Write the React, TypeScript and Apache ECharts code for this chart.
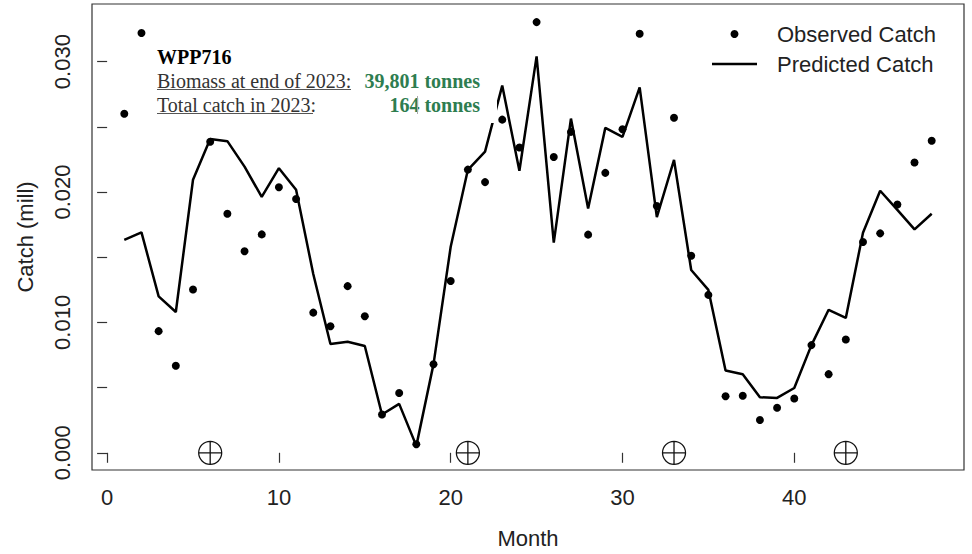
import React, { useEffect, useRef } from "react";
import * as echarts from "echarts";

const months = [
  1, 2, 3, 4, 5, 6, 7, 8, 9, 10, 11, 12, 13, 14, 15, 16, 17, 18, 19, 20, 21, 22, 23, 24,
  25, 26, 27, 28, 29, 30, 31, 32, 33, 34, 35, 36, 37, 38, 39, 40, 41, 42, 43, 44, 45, 46, 47, 48,
];

const observedCatch = [
  0.026, 0.0322, 0.00933, 0.00667, 0.01252, 0.02386, 0.01833, 0.01546, 0.01675, 0.02036,
  0.01947, 0.01075, 0.00971, 0.01278, 0.01047, 0.00294, 0.00459, 0.00066, 0.00679, 0.01318,
  0.02172, 0.02076, 0.02555, 0.02342, 0.03303, 0.02269, 0.02461, 0.01673, 0.02147, 0.02481,
  0.03214, 0.01893, 0.0257, 0.01511, 0.01211, 0.00433, 0.00438, 0.00251, 0.00345, 0.00416,
  0.00826, 0.00603, 0.00869, 0.01617, 0.01683, 0.01904, 0.02226, 0.02393,
];

const predictedCatch = [
  0.01633, 0.0169, 0.012, 0.0108, 0.02094, 0.02406, 0.0239, 0.02195, 0.01962, 0.02183,
  0.02018, 0.01371, 0.00834, 0.00852, 0.00819, 0.00294, 0.00375, 0.00053, 0.0068, 0.0158,
  0.0217, 0.0231, 0.02816, 0.02163, 0.0304, 0.01612, 0.02563, 0.01873, 0.02492, 0.02423,
  0.02803, 0.01808, 0.02246, 0.01402, 0.01249, 0.00631, 0.00603, 0.00426, 0.00421, 0.00497,
  0.00826, 0.01097, 0.01034, 0.01688, 0.0201, 0.01863, 0.01713, 0.01833,
];

const markerMonths = [6, 21, 33, 43];
const markerValues = [0, 0, 0, 0];

const xTicks = [0, 10, 20, 30, 40];
const yTicks = [0, 0.005, 0.01, 0.015, 0.02, 0.025, 0.03];
const yLabels = [0, 0.01, 0.02, 0.03];

const titleText = "WPP716";
const biomassLabel = "Biomass at end of 2023";
const biomassValue = "39,801 tonnes";
const catchLabel = "Total catch in 2023";
const catchValue = "164 tonnes";

const circlePlus =
  "path://M10 0 A10 10 0 1 1 10 20 A10 10 0 1 1 10 0 Z M0 10 L20 10 M10 0 L10 20";
const legendLine = "path://M0 0 L45 0 L45 2.5 L0 2.5 Z";

export default function App() {
  const ref = useRef<HTMLDivElement>(null);

  useEffect(() => {
    if (!ref.current) return;
    const chart = echarts.init(ref.current, null, { renderer: "svg" });
    const axisColor = "#333";
    const textColor = "#222";
    const serif = '"Liberation Serif", "Times New Roman", serif';
    const green = "#2e7d50";

    const option: any = {
      animation: false,
      backgroundColor: "#fff",
      textStyle: { fontFamily: '"Liberation Sans", Arial, sans-serif' },
      grid: {
        left: 92,
        top: 4,
        width: 872,
        height: 470,
        show: true,
        borderColor: axisColor,
        borderWidth: 1.2,
        backgroundColor: "transparent",
      },
      xAxis: {
        type: "value",
        min: -0.88,
        max: 49.88,
        splitLine: { show: false },
        axisLine: { show: false },
        axisTick: {
          show: true,
          length: 10,
          customValues: xTicks,
          lineStyle: { color: axisColor, width: 1.2 },
        },
        axisLabel: {
          customValues: xTicks,
          fontSize: 22,
          color: textColor,
          margin: 16,
        },
        name: "Month",
        nameLocation: "middle",
        nameGap: 57,
        nameTextStyle: { fontSize: 22, color: textColor },
      },
      yAxis: {
        type: "value",
        min: -0.00132,
        max: 0.03442,
        splitLine: { show: false },
        axisLine: { show: false },
        axisTick: {
          show: true,
          length: 10,
          customValues: yTicks,
          lineStyle: { color: axisColor, width: 1.2 },
        },
        axisLabel: {
          customValues: yLabels,
          fontSize: 22,
          color: textColor,
          rotate: 90,
          margin: 19,
          formatter: (v: number) => v.toFixed(3),
        },
        name: "Catch (mill)",
        nameLocation: "middle",
        nameGap: 56,
        nameTextStyle: { fontSize: 22, color: textColor },
      },
      legend: {
        data: [
          { name: "Observed Catch", icon: "circle" },
          { name: "Predicted Catch", icon: legendLine },
        ],
        orient: "vertical",
        left: 707,
        top: 18,
        itemWidth: 45,
        itemHeight: 8,
        itemGap: 8,
        selectedMode: false,
        itemStyle: { opacity: 1 },
        textStyle: {
          fontSize: 22,
          color: textColor,
          lineHeight: 22,
          padding: [0, 0, 0, 15],
        },
      },
      series: [
        {
          name: "Observed Catch",
          type: "scatter",
          data: months.map((m, i) => [m, observedCatch[i]]),
          symbol: "circle",
          symbolSize: 8,
          itemStyle: { color: "#000", opacity: 1 },
          z: 3,
        },
        {
          name: "Predicted Catch",
          type: "line",
          data: months.map((m, i) => [m, predictedCatch[i]]),
          symbol: "none",
          showSymbol: false,
          lineStyle: { color: "#000", width: 2.5 },
          itemStyle: { color: "#000" },
          z: 2,
        },
        {
          name: "markers",
          type: "scatter",
          data: markerMonths.map((m, i) => [m, markerValues[i]]),
          symbol: circlePlus,
          symbolSize: 23,
          itemStyle: {
            color: "rgba(0,0,0,0)",
            borderColor: "#111",
            borderWidth: 1.3,
            opacity: 1,
          },
          z: 2,
        },
      ],
      graphic: [
        {
          type: "rect",
          z: 10,
          shape: { x: 150, y: 40, width: 347, height: 83 },
          style: { fill: "#fff" },
        },
        {
          type: "text",
          z: 11,
          x: 157,
          y: 56.5,
          style: {
            text: titleText,
            font: `bold 20px ${serif}`,
            fill: "#000",
            align: "left",
            verticalAlign: "middle",
          },
        },
        {
          type: "text",
          z: 11,
          x: 157,
          y: 80.5,
          style: {
            text: biomassLabel + ":",
            font: `20px ${serif}`,
            fill: "#333",
            align: "left",
            verticalAlign: "middle",
          },
        },
        {
          type: "text",
          z: 11,
          x: 480,
          y: 80.5,
          style: {
            text: biomassValue,
            font: `bold 20px ${serif}`,
            fill: green,
            align: "right",
            verticalAlign: "middle",
          },
        },
        {
          type: "text",
          z: 11,
          x: 157,
          y: 104.5,
          style: {
            text: catchLabel + ":",
            font: `20px ${serif}`,
            fill: "#333",
            align: "left",
            verticalAlign: "middle",
          },
        },
        {
          type: "text",
          z: 11,
          x: 480,
          y: 104.5,
          style: {
            text: catchValue,
            font: `bold 20px ${serif}`,
            fill: green,
            align: "right",
            verticalAlign: "middle",
          },
        },
        {
          type: "line",
          z: 11,
          shape: { x1: 157, y1: 89.5, x2: 351, y2: 89.5 },
          style: { stroke: "#555", lineWidth: 1 },
        },
        {
          type: "line",
          z: 11,
          shape: { x1: 157, y1: 113.5, x2: 313, y2: 113.5 },
          style: { stroke: "#555", lineWidth: 1 },
        },
        {
          type: "line",
          z: 11,
          shape: { x1: 417.5, y1: 96, x2: 417.5, y2: 114 },
          style: { stroke: "#aaa", lineWidth: 1 },
        },
      ],
    };

    chart.setOption(option);
    return () => chart.dispose();
  }, []);

  return (
    <div
      ref={ref}
      style={{ position: "fixed", left: 0, top: 0, width: 972, height: 554, background: "#fff" }}
    />
  );
}
